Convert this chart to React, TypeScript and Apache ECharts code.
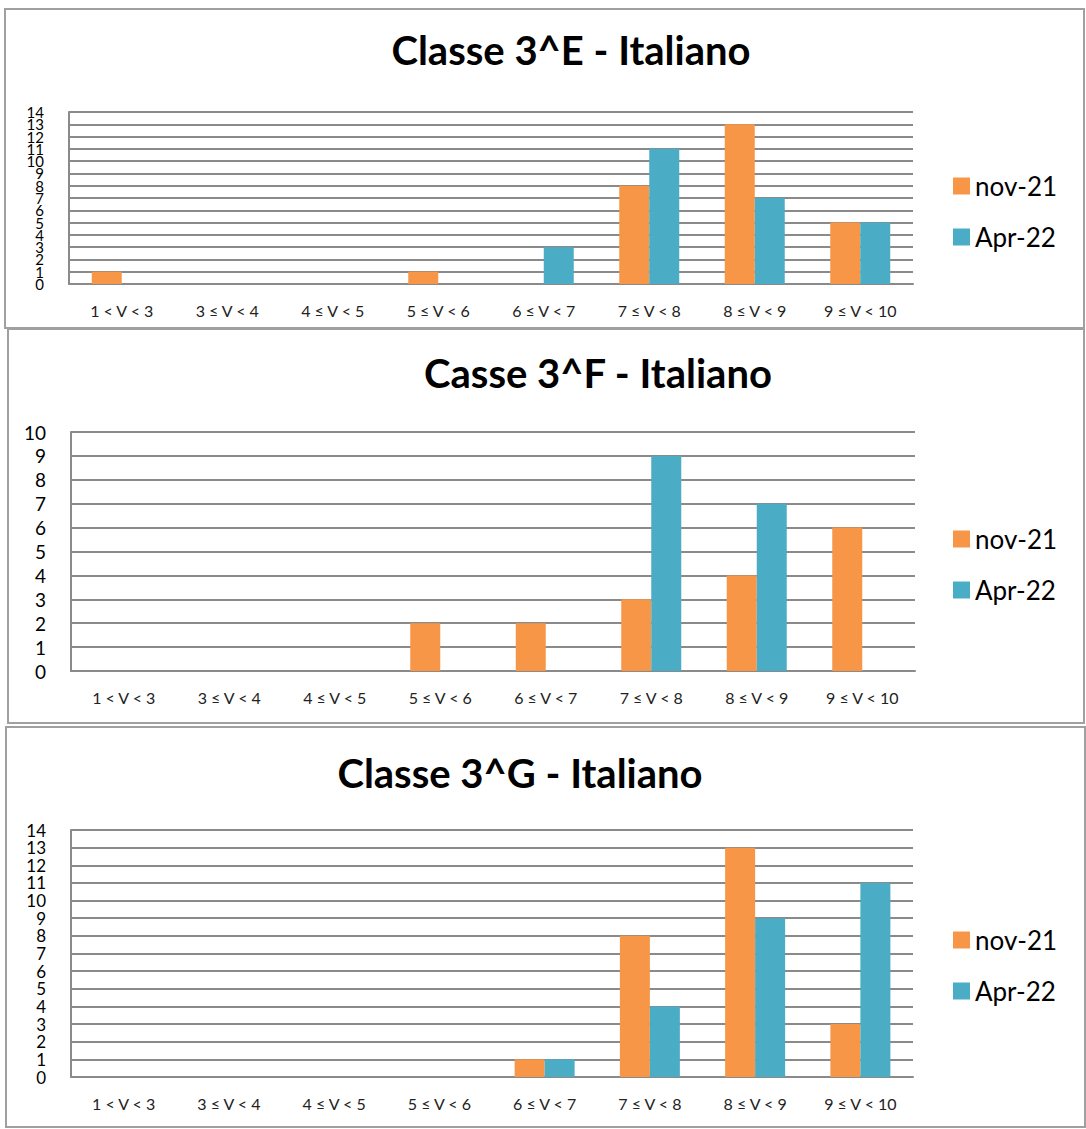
import React, { useEffect, useRef } from "react";
import * as echarts from "echarts";

const categories = [
  "1 < V < 3",
  "3 ≤ V < 4",
  "4 ≤ V < 5",
  "5 ≤ V < 6",
  "6 ≤ V < 7",
  "7 ≤ V < 8",
  "8 ≤ V < 9",
  "9 ≤ V < 10",
];
const seriesNames = ["nov-21", "Apr-22"];
const titles = ["Classe 3^E - Italiano", "Casse 3^F - Italiano", "Classe 3^G - Italiano"];
const classE_nov = [1, 0, 0, 1, 0, 8, 13, 5];
const classE_apr = [0, 0, 0, 0, 3, 11, 7, 5];
const classF_nov = [0, 0, 0, 2, 2, 3, 4, 6];
const classF_apr = [0, 0, 0, 0, 0, 9, 7, 0];
const classG_nov = [0, 0, 0, 0, 1, 8, 13, 3];
const classG_apr = [0, 0, 0, 0, 1, 4, 9, 11];
const yMax = [14, 10, 14];
const evenTicks14 = [0, 2, 4, 6, 8, 10, 12, 14];
const oddTicks14 = [1, 3, 5, 7, 9, 11, 13];
const evenTicks10 = [0, 2, 4, 6, 8, 10];
const oddTicks10 = [1, 3, 5, 7, 9];

const ORANGE = "#F79646";
const BLUE = "#4BACC6";
const GRIDC = "#8a8a8a";
const FONT = "Lato, 'Open Sans', sans-serif";

const panels = [
  { box: [5, 9, 1084, 328], grid: [69, 112, 913, 284], titleX: 571, titleY: 50, legendTop: 173, yFont: 15, ticks: [evenTicks14, oddTicks14], data: [classE_nov, classE_apr] },
  { box: [8, 329, 1084, 723], grid: [71, 432, 915, 671], titleX: 598, titleY: 373, legendTop: 526, yFont: 19, ticks: [evenTicks10, oddTicks10], data: [classF_nov, classF_apr] },
  { box: [6, 727, 1085, 1127], grid: [71, 830, 913, 1077], titleX: 520, titleY: 773, legendTop: 927, yFont: 17, ticks: [evenTicks14, oddTicks14], data: [classG_nov, classG_apr] },
];

export default function App() {
  const ref = useRef<HTMLDivElement>(null);
  useEffect(() => {
    if (!ref.current) return;
    const chart = echarts.init(ref.current, undefined, { renderer: "svg" });
    const titleSize = 40;
    const yAxes: any[] = [];
    panels.forEach((p, i) => {
      [0, 1].forEach((k) => {
        yAxes.push({
          type: "value",
          gridIndex: i,
          position: "left",
          offset: 0,
          min: 0,
          max: yMax[i],
          interval: 1,
          axisLine: { show: k === 0, lineStyle: { color: GRIDC, width: 2 } },
          axisTick: { show: false },
          axisLabel: {
            margin: 25,
            fontFamily: FONT,
            fontSize: p.yFont,
            color: "#000",
            customValues: p.ticks[k],
            showMinLabel: true,
            showMaxLabel: true,
            hideOverlap: false,
          },
          splitLine: { show: k === 0, lineStyle: { color: GRIDC, width: 2 } },
        });
      });
    });
    const option: any = {
      animation: false,
      backgroundColor: "#ffffff",
      color: [ORANGE, BLUE],
      title: panels.map((p, i) => ({
        text: titles[i],
        left: p.titleX,
        top: p.titleY - titleSize / 2,
        textAlign: "center",
        padding: 0,
        textStyle: {
          fontFamily: FONT,
          fontWeight: "bold",
          fontSize: titleSize,
          lineHeight: titleSize,
          color: "#000",
        },
      })),
      legend: panels.map((p) => ({
        data: seriesNames,
        orient: "vertical",
        left: 953,
        top: p.legendTop,
        padding: 0,
        itemWidth: 17,
        itemHeight: 17,
        itemGap: 25,
        icon: "rect",
        selectedMode: false,
        textStyle: { fontFamily: FONT, fontSize: 26, lineHeight: 26, color: "#000" },
      })),
      grid: panels.map((p) => ({
        left: p.grid[0],
        top: p.grid[1],
        width: p.grid[2] - p.grid[0],
        height: p.grid[3] - p.grid[1],
        containLabel: false,
      })),
      xAxis: panels.map((p, i) => ({
        type: "category",
        gridIndex: i,
        data: categories,
        axisTick: { show: false },
        axisLine: { show: true, lineStyle: { color: GRIDC, width: 2 } },
        axisLabel: {
          interval: 0,
          margin: 18,
          fontFamily: FONT,
          fontSize: 16,
          color: "#222",
        },
        splitLine: { show: false },
      })),
      yAxis: yAxes,
      series: panels.flatMap((p, i) =>
        seriesNames.map((name, k) => ({
          type: "bar",
          name,
          xAxisIndex: i,
          yAxisIndex: i * 2,
          data: p.data[k],
          barWidth: 30,
          barGap: "0%",
          itemStyle: { color: k === 0 ? ORANGE : BLUE },
        }))
      ),
      graphic: panels.map((p) => ({
        type: "rect",
        shape: { x: p.box[0], y: p.box[1], width: p.box[2] - p.box[0], height: p.box[3] - p.box[1] },
        style: { fill: "none", stroke: "#a0a0a0", lineWidth: 2 },
        silent: true,
        z: -1,
      })),
    };
    chart.setOption(option);
    return () => chart.dispose();
  }, []);
  return (
    <div
      ref={ref}
      style={{ position: "absolute", left: 0, top: 0, width: 1086, height: 1129, background: "#fff" }}
    />
  );
}
